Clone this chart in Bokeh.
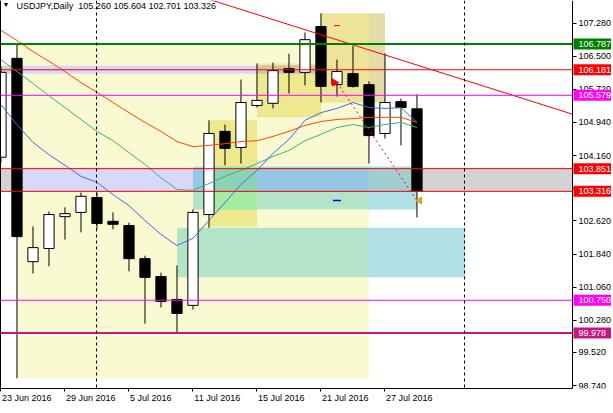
import numpy as np
from bokeh.plotting import figure
from bokeh.models import Range1d, LinearAxis, FixedTicker, PrintfTickFormatter, Label
from bokeh.embed import file_html
from bokeh.resources import INLINE
from bokeh.core.properties import value

# ---------------- data ----------------
dates = ["23 Jun 2016", "24 Jun 2016", "27 Jun 2016", "28 Jun 2016", "29 Jun 2016",
         "30 Jun 2016", "1 Jul 2016", "4 Jul 2016", "5 Jul 2016", "6 Jul 2016",
         "7 Jul 2016", "8 Jul 2016", "11 Jul 2016", "12 Jul 2016", "13 Jul 2016",
         "14 Jul 2016", "15 Jul 2016", "18 Jul 2016", "19 Jul 2016", "20 Jul 2016",
         "21 Jul 2016", "22 Jul 2016", "25 Jul 2016", "26 Jul 2016", "27 Jul 2016",
         "28 Jul 2016", "29 Jul 2016"]
opens  = [104.12, 106.45, 101.66, 101.97, 102.72, 102.82, 103.17, 102.61, 102.51, 101.73,
          101.31, 100.77, 100.63, 102.77, 104.73, 104.35, 105.34, 105.39, 106.21, 106.12,
          107.20, 105.83, 106.09, 105.83, 104.68, 105.43, 105.260]
highs  = [106.25, 106.79, 102.49, 102.84, 102.94, 103.29, 103.29, 102.82, 102.58, 101.80,
          101.40, 101.57, 102.89, 104.99, 104.89, 105.95, 106.33, 106.35, 106.56, 107.06,
          107.51, 106.42, 106.75, 105.91, 106.57, 105.50, 105.604]
lows   = [104.00, 98.91, 101.38, 101.55, 102.18, 102.35, 102.42, 102.42, 101.43, 100.20,
          100.58, 99.99, 100.53, 102.46, 103.93, 103.97, 105.29, 105.27, 105.62, 105.81,
          105.41, 105.55, 105.76, 103.97, 104.56, 104.40, 102.701]
closes = [106.12, 102.25, 101.99, 102.77, 102.79, 103.20, 102.56, 102.54, 101.73, 101.29,
          100.72, 100.44, 102.82, 104.68, 104.33, 105.41, 105.46, 106.16, 106.12, 106.89,
          105.79, 106.14, 105.79, 104.63, 105.41, 105.29, 103.326]

ma_blue   = [105.36, 104.89, 104.47, 104.18, 103.93, 103.67, 103.53, 103.24, 102.98, 102.63,
             102.30, 102.04, 102.21, 102.63, 103.05, 103.48, 103.81, 104.21, 104.54, 104.99,
             105.17, 105.27, 105.41, 105.29, 105.27, 105.29, 104.94]
ma_green  = [106.42, 106.14, 105.86, 105.57, 105.29, 105.01, 104.73, 104.51, 104.23, 103.95,
             103.64, 103.36, 103.34, 103.50, 103.67, 103.81, 103.97, 104.14, 104.28, 104.51,
             104.66, 104.82, 104.89, 104.82, 104.89, 104.94, 104.82]
ma_orange = [107.11, 106.87, 106.61, 106.38, 106.14, 105.88, 105.65, 105.41, 105.17, 104.94,
             104.73, 104.49, 104.37, 104.40, 104.44, 104.49, 104.51, 104.61, 104.73, 104.87,
             104.96, 105.01, 105.03, 105.06, 105.06, 105.06, 104.94]

level_prices = [106.787, 106.181, 105.579, 103.851, 103.316, 100.750, 99.978]
level_colors = ["#008000", "#FF0000", "#FF00FF", "#FF0000", "#FF0000", "#FF00FF", "#C71585"]
level_widths = [2, 1, 1, 1, 1, 1, 2]

y_ticks = [98.740, 99.520, 100.280, 101.060, 101.840, 102.620, 103.380, 104.160,
           104.940, 105.720, 106.500, 107.280]
x_tick_labels = ["23 Jun 2016", "29 Jun 2016", "5 Jul 2016", "11 Jul 2016",
                 "15 Jul 2016", "21 Jul 2016", "27 Jul 2016"]
separator_idx = [6, 29]

# rectangle objects (bar index from/to, price top/bottom) and their displayed colours
zone_left   = [1, 13, 16, 20, 23, 11, 23, 12, 13, 23,
               -1, 1, 12, 13, 16, 23, 26, -1, 1, 16]
zone_right  = [23, 16, 20, 23, 24, 23, 29, 23, 16, 26,
               1, 12, 13, 16, 23, 26, 40, 1, 16, 20]
zone_top    = [106.79, 104.99, 106.33, 107.51, 107.51, 102.46, 102.46, 103.90, 103.90, 103.90,
               103.87, 103.87, 103.87, 103.87, 103.87, 103.87, 103.87, 106.28, 106.28, 106.28]
zone_bottom = [98.91, 102.49, 105.06, 105.41, 105.41, 101.29, 101.29, 102.89, 102.89, 102.89,
               103.30, 103.30, 103.30, 103.30, 103.30, 103.30, 103.30, 106.09, 106.09, 106.09]
zone_colors = ["#FAFAD2", "#EEE88E", "#EEE88E", "#EDE49A", "#E4DCA8", "#B4E4C8", "#B0E0E6",
               "#B4E4C8", "#A4ECA4", "#B0E0E6",
               "#D3D3D3", "#D8D8F8", "#96C8E6", "#8CD2B4", "#96C8E6", "#A2CED0", "#D3D3D3",
               "#D3D3D3", "#D8D8F8", "#CCC4A4"]

trend_idx = [13, 35]
trend_price = [107.84, 105.22]

trade_idx = [21, 26]
trade_price = [105.88, 103.10]
stop_loss = 107.22
take_profit = 103.10

title_text = "USDJPY,Daily\u00a0 105.260 105.604 102.701 103.326"

# ---------------- geometry ----------------
PX_PER_BAR = 16.0
X0 = -0.03
X_AXIS = 35.72             # bar position of the price scale
FW, FH = 611, 388
X1 = X0 + FW / PX_PER_BAR  # frame also holds the price-scale area
Y0, Y1 = 98.671, 107.813
FONT = "Liberation Sans"
FSIZE = 9

# Arial-metric widths (per 1000 em) used to left-align date labels at their ticks
CHAR_W = {" ": 278, "J": 500, "u": 556, "n": 556, "l": 222}
def text_px(s):
    return sum(CHAR_W.get(ch, 556) for ch in s) * FSIZE / 1000.0

p = figure(x_range=Range1d(X0, X1), y_range=Range1d(Y0, Y1),
           frame_width=FW, frame_height=FH, output_backend="svg",
           toolbar_location=None, x_axis_location=None, y_axis_location=None,
           min_border_left=0, min_border_right=0, min_border_top=0, min_border_bottom=24,
           background_fill_color="white", border_fill_color="white")
p.grid.visible = False
p.outline_line_color = None

# zones
p.quad(left=zone_left, right=np.minimum(zone_right, X_AXIS), top=zone_top, bottom=zone_bottom,
       fill_color=zone_colors, line_color=None)

# candles
idx = np.arange(len(dates))
o = np.array(opens); c = np.array(closes)
body_top = np.maximum(o, c)
body_bot = np.minimum(o, c)
fills = ["white" if cc >= oo else "black" for oo, cc in zip(opens, closes)]
p.segment(x0=idx, y0=lows, x1=idx, y1=highs, line_color="black", line_width=1)
p.vbar(x=idx, top=body_top, bottom=body_bot, width=0.64, fill_color=fills,
       line_color="black", line_width=1)

# moving averages
p.line(idx, ma_orange, line_color="#FF4500", line_width=1)
p.line(idx, ma_green, line_color="#3CB371", line_width=1)
p.line(idx, ma_blue, line_color="#4169E1", line_width=1)

# trend line, extended to the price scale
slope = (trend_price[1] - trend_price[0]) / (trend_idx[1] - trend_idx[0])
tx = np.array([X0 - 1, X_AXIS])
p.line(tx, trend_price[0] + slope * (tx - trend_idx[0]), line_color="#FF0000", line_width=1)

# horizontal levels (up to the price scale) and period separators
n_lv = len(level_prices)
p.segment(x0=[X0 - 1] * n_lv, x1=[X_AXIS] * n_lv, y0=level_prices, y1=level_prices,
          line_color=level_colors, line_width=level_widths)
p.vspan(x=separator_idx, line_color="black", line_width=1, line_dash="3 3")

# trade history
p.line(trade_idx, trade_price, line_color="#FF0000", line_width=1, line_dash="2 3")
p.scatter([trade_idx[0] - 0.15], [trade_price[0]], marker="triangle", angle=-np.pi / 2,
          size=7, fill_color="#FF0000", line_color="#FF0000")
p.scatter([trade_idx[1] + 0.17], [trade_price[1]], marker="triangle", angle=np.pi / 2,
          size=7, fill_color="#DAA520", line_color="#DAA520")
p.scatter([trade_idx[0]], [stop_loss], marker="dash", size=6, line_color="#FF0000", line_width=1)
p.scatter([trade_idx[0]], [take_profit], marker="dash", size=8, line_color="#0000FF", line_width=1.5)

# price scale (placed at the right end of the chart area)
ya = LinearAxis(fixed_location=X_AXIS, ticker=FixedTicker(ticks=y_ticks),
                formatter=PrintfTickFormatter(format="%.3f"))
ya.major_tick_out = 4
ya.major_tick_in = 0
ya.minor_tick_line_color = None
ya.major_label_standoff = 2
ya.major_label_text_font = FONT
ya.major_label_text_font_size = f"{FSIZE}px"
ya.major_label_text_color = "black"
ya.axis_line_color = "black"
p.add_layout(ya, "right")

# time scale: ticks on one axis, left-aligned date labels on a second one
tick_pos = [dates.index(d) for d in x_tick_labels]
xa = LinearAxis(ticker=FixedTicker(ticks=tick_pos), bounds=(X0, X_AXIS))
xa.major_label_overrides = {t: "" for t in tick_pos}
xa.major_label_text_font_size = "0px"
xa.major_label_standoff = 0
xa.major_tick_out = 3
xa.major_tick_in = 0
xa.minor_tick_line_color = None
xa.axis_line_color = "black"
p.add_layout(xa, "below")

label_pos = [t + (text_px(d) / 2 + 1) / PX_PER_BAR for t, d in zip(tick_pos, x_tick_labels)]
xl = LinearAxis(ticker=FixedTicker(ticks=label_pos))
xl.major_label_overrides = {lp: d for lp, d in zip(label_pos, x_tick_labels)}
xl.major_tick_line_color = None
xl.minor_tick_line_color = None
xl.axis_line_color = None
xl.major_label_standoff = -5
xl.major_label_text_font = FONT
xl.major_label_text_font_size = f"{FSIZE}px"
xl.major_label_text_color = "black"
p.add_layout(xl, "below")

left_axis = LinearAxis(ticker=FixedTicker(ticks=[]), major_tick_out=0, major_tick_in=0,
                       minor_tick_out=0, minor_tick_in=0, major_label_standoff=0,
                       major_label_text_font_size="0px", axis_line_color="black")
p.add_layout(left_axis, "left")

# price labels of the levels on the price scale (boxes drawn above the scale's labels)
box_left = X_AXIS + 1.0 / PX_PER_BAR
box_right = X1 + 1.0
boxes = p.rect(x=[(box_left + box_right) / 2] * n_lv, y=level_prices,
               width=box_right - box_left, height=11, height_units="screen",
               fill_color=level_colors, line_color=None)
boxes.level = "annotation"
box_txt = p.text(x=[X_AXIS] * n_lv, y=level_prices, text=[f"{v:.3f}" for v in level_prices],
                 x_offset=6, text_baseline="middle", text_align="left",
                 text_font=value(FONT), text_font_size=value(f"{FSIZE}px"), text_color="white")
box_txt.level = "annotation"

# chart title
p.add_layout(Label(x=2, y=FH - 4, x_units="screen", y_units="screen", text="\u25BC",
                   text_font=FONT, text_font_size="7px", text_color="black",
                   text_baseline="alphabetic"))
p.add_layout(Label(x=16, y=FH - 5, x_units="screen", y_units="screen", text=title_text,
                   text_font=FONT, text_font_size=f"{FSIZE}px", text_color="black",
                   text_baseline="alphabetic"))

open("out.html", "w").write(file_html(p, INLINE))
